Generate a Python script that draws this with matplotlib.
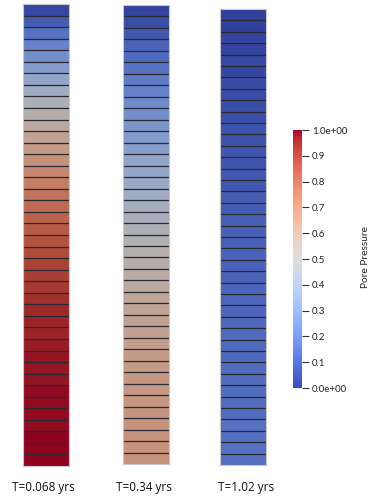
import numpy as np
import matplotlib
matplotlib.use("Agg")
import matplotlib.pyplot as plt
from matplotlib.colors import ListedColormap, Normalize
from matplotlib.colorbar import ColorbarBase

times = ["T=0.068 yrs", "T=0.34 yrs", "T=1.02 yrs"]

p_t1 = [0.03, 0.09, 0.15, 0.21, 0.26, 0.32, 0.37, 0.42, 0.47, 0.52,
        0.56, 0.60, 0.64, 0.68, 0.71, 0.74, 0.77, 0.80, 0.82, 0.84,
        0.86, 0.88, 0.90, 0.91, 0.92, 0.94, 0.95, 0.96, 0.96, 0.97,
        0.98, 0.98, 0.98, 0.99, 0.99, 0.99, 0.99, 1.00, 1.00, 1.00]
p_t2 = [0.02, 0.05, 0.08, 0.11, 0.13, 0.16, 0.19, 0.21, 0.24, 0.26,
        0.29, 0.31, 0.33, 0.36, 0.38, 0.40, 0.42, 0.44, 0.46, 0.48,
        0.50, 0.52, 0.53, 0.55, 0.56, 0.58, 0.59, 0.60, 0.61, 0.62,
        0.63, 0.64, 0.65, 0.65, 0.66, 0.66, 0.67, 0.67, 0.67, 0.67]
p_t3 = [0.01, 0.01, 0.02, 0.02, 0.03, 0.03, 0.04, 0.04, 0.05, 0.05,
        0.06, 0.06, 0.07, 0.07, 0.08, 0.08, 0.09, 0.09, 0.10, 0.10,
        0.10, 0.11, 0.11, 0.11, 0.12, 0.12, 0.12, 0.13, 0.13, 0.13,
        0.13, 0.14, 0.14, 0.14, 0.14, 0.14, 0.15, 0.15, 0.15, 0.15]
profiles = [p_t1, p_t2, p_t3]

cb_ticks = [0.0, 0.1, 0.2, 0.3, 0.4, 0.5, 0.6, 0.7, 0.8, 0.9, 1.0]
cb_labels = ["0.0e+00", "0.1", "0.2", "0.3", "0.4", "0.5", "0.6", "0.7", "0.8", "0.9", "1.0e+00"]

W, H = 374, 501
fig = plt.figure(figsize=(W / 100, H / 100), dpi=100)

base = plt.get_cmap("coolwarm")
shade = 0.8
cols = base(np.linspace(0, 1, 256))
cols[:, :3] *= shade
shaded = ListedColormap(cols)

# column boxes in pixels: (left, top, right, bottom)
boxes = [(23, 4, 69, 466), (123, 5, 169, 464), (220, 9, 266, 465)]
label_x = [43.5, 143.5, 246]

def px_ax(l, t, r, b):
    return fig.add_axes([l / W, 1 - b / H, (r - l) / W, (b - t) / H])

for (l, t, r, b), prof, lab, lx in zip(boxes, profiles, times, label_x):
    ax = px_ax(l, t, r, b)
    arr = np.array(prof)[:, None]
    n = len(prof)
    ax.pcolormesh(np.array([0, 1]), np.arange(n + 1), arr, cmap=shaded,
                  norm=Normalize(0, 1), shading="flat")
    ax.hlines(np.arange(1, n), 0, 1, colors="#2a2a35", linewidth=0.9)
    ax.set_xlim(0, 1)
    ax.set_ylim(n, 0)
    ax.set_xticks([])
    ax.set_yticks([])
    for s in ax.spines.values():
        s.set_color("#c8c8c8")
        s.set_linewidth(0.8)
    fig.text(lx / W, 1 - 487 / H, lab, ha="center", va="center",
             fontsize=8.5, family="Open Sans", color="#111111")

cax = px_ax(293, 130, 302, 388)
cb = ColorbarBase(cax, cmap=base, norm=Normalize(0, 1), orientation="vertical")
cb.outline.set_visible(False)
cb.set_ticks(cb_ticks)
cb.set_ticklabels(cb_labels)
cax.tick_params(axis="y", direction="out", length=5, width=0.8, color="#333333",
                labelsize=7, labelcolor="#222222", pad=2)
for tl in cax.get_yticklabels():
    tl.set_family("Lato")
fig.text(365 / W, 1 - 257 / H, "Pore Pressure", rotation=90, ha="center",
         va="center", fontsize=7.3, family="Lato", color="#222222")

fig.savefig("out.png", dpi=100)
